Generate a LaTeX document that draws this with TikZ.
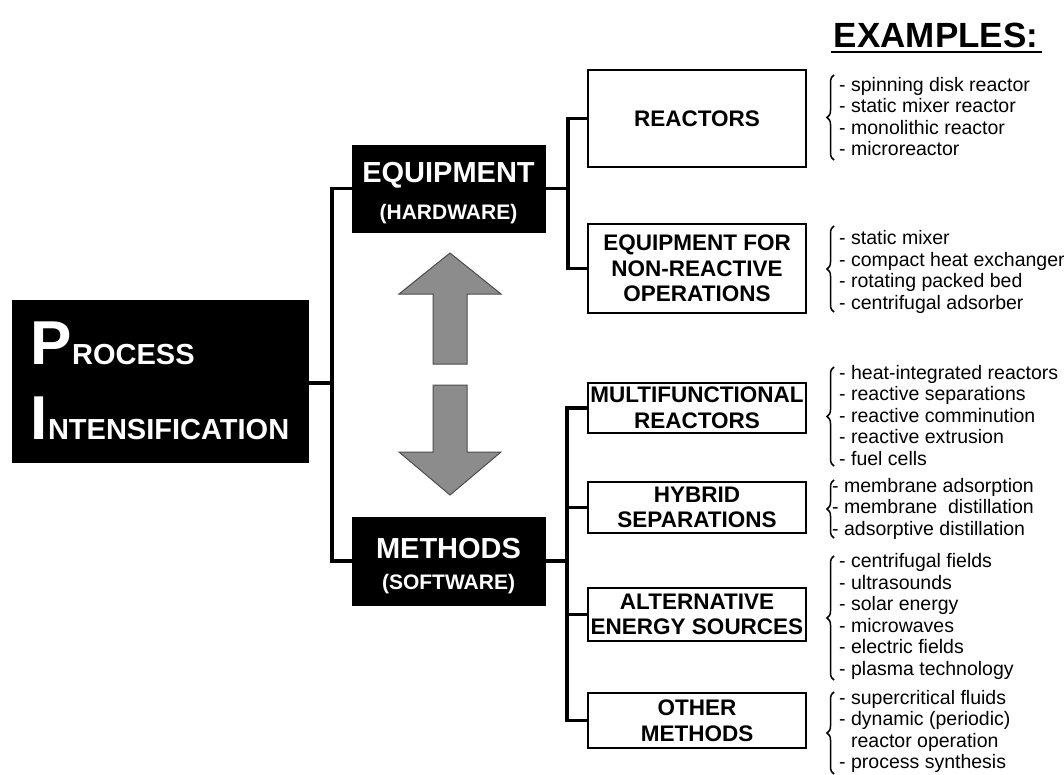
\documentclass[tikz,border=0pt]{standalone}
\usepackage{fontspec}
\setmainfont{Liberation Sans}
\usetikzlibrary{decorations.pathreplacing,calc}

\begin{document}
\begin{tikzpicture}[x=1pt,y=-1pt,
  blackbox/.style={draw=black, fill=black, text=white, align=center, inner sep=0pt},
  whitebox/.style={draw=black, line width=2pt, fill=white, align=center, inner sep=0pt,
    minimum width=218pt, font=\fontsize{22.5}{25.5}\selectfont\bfseries},
  link/.style={line width=3.2pt, line join=miter},
  exlist/.style={anchor=west, align=left, inner sep=0pt, font=\fontsize{19.5}{21.5}\selectfont},
  exbrace/.style={decorate, decoration={brace, amplitude=7pt}, line width=1.5pt},
  bigarrow/.style={fill=black!45, draw=black!70, line width=1pt, line join=miter},
  underbar/.style={line width=2.8pt, draw=black}
]
\useasboundingbox (0,0) rectangle (1064,775);

% main concept
\node[blackbox, minimum width=296pt, minimum height=162pt, align=left,
      font=\fontsize{62}{75}\selectfont\bfseries] (pi) at (160,381)
  {P{\fontsize{29}{75}\selectfont ROCESS}\\I{\fontsize{29}{75}\selectfont NTENSIFICATION}};

% two branches
\node[blackbox, minimum width=193pt, minimum height=87pt,
      font=\fontsize{29}{37}\selectfont\bfseries] (eq) at (448.5,188.5)
  {\rule{0pt}{30pt}EQUIPMENT\\{\fontsize{21}{25}\selectfont (HARDWARE)}};
\node[blackbox, minimum width=193pt, minimum height=88pt,
      font=\fontsize{29}{31}\selectfont\bfseries] (me) at (448.5,561)
  {\rule{0pt}{30pt}METHODS\\{\fontsize{21}{25}\selectfont (SOFTWARE)}};

% categories
\node[whitebox, minimum height=97pt] (reac) at (697,118.5) {REACTORS};
\node[whitebox, minimum height=89pt] (nonr) at (697,268.5) {EQUIPMENT FOR\\NON-REACTIVE\\OPERATIONS};
\node[whitebox, minimum height=50pt] (multi) at (697,408) {MULTIFUNCTIONAL\\REACTORS};
\node[whitebox, minimum height=51pt] (hyb) at (697,507.5) {HYBRID\\SEPARATIONS};
\node[whitebox, minimum height=53pt] (alt) at (697,614.5) {ALTERNATIVE\\ENERGY SOURCES};
\node[whitebox, minimum height=55pt] (oth) at (697,720.5) {OTHER\\METHODS};

% tree connectors
\coordinate (lt) at (332,383);
\draw[link] (pi.east |- lt) -- (lt);
\draw[link] (eq.west) -| (lt) |- (me.west);

\coordinate (rq) at (568,188.5);
\draw[link] (eq.east) -- (rq);
\draw[link] (reac.west) -| (rq) |- (nonr.west);

\coordinate (rm) at (567,561);
\draw[link] (me.east) -- (rm);
\draw[link] (multi.west) -| (rm) |- (oth.west);
\draw[link] (rm |- hyb.west) -- (hyb.west);
\draw[link] (rm |- alt.west) -- (alt.west);

% two-way block arrows
\draw[bigarrow] (433,364) -- (433,294) -- (399,294) -- (450,253) -- (501,294)
  -- (467,294) -- (467,364) -- cycle;
\draw[bigarrow] (433,385) -- (467,385) -- (467,452) -- (501,452) -- (450,495)
  -- (399,452) -- (433,452) -- cycle;

% examples column heading, underlined
\node[font=\fontsize{35}{40}\selectfont\bfseries, inner sep=0pt, anchor=base] (exhead) at (936,48) {EXAMPLES:};
\coordinate (ulA) at (831,52);
\coordinate (ulB) at (1042,52);
\draw[underbar] (ulA) -- (ulB);

\draw[exbrace] (834,160) -- (834,75);
\node[exlist] (exreac) at (839,116.5)
  {- spinning disk reactor\\- static mixer reactor\\- monolithic reactor\\- microreactor};

\draw[exbrace] (834,312) -- (834,226);
\node[exlist] (exnonr) at (839,272)
  {- static mixer\\- compact heat exchanger\\- rotating packed bed\\- centrifugal adsorber};

\draw[exbrace] (834,466) -- (834,367);
\node[exlist] (exmulti) at (839,415.5)
  {- heat-integrated reactors\\- reactive separations\\- reactive comminution\\- reactive extrusion\\- fuel cells};

\draw[exbrace] (834,538) -- (834,480);
\node[exlist] (exhyb) at (832,508.5)
  {- membrane adsorption\\- membrane~ distillation\\- adsorptive distillation};

\draw[exbrace] (834,680) -- (834,556);
\node[exlist] (exalt) at (839,616.5)
  {- centrifugal fields\\- ultrasounds\\- solar energy\\- microwaves\\- electric fields\\- plasma technology};

\draw[exbrace] (834,774) -- (834,692);
\node[exlist] (exoth) at (839,731.5)
  {- supercritical fluids\\- dynamic (periodic)\\\hphantom{- }reactor operation\\- process synthesis};
\end{tikzpicture}
\end{document}
